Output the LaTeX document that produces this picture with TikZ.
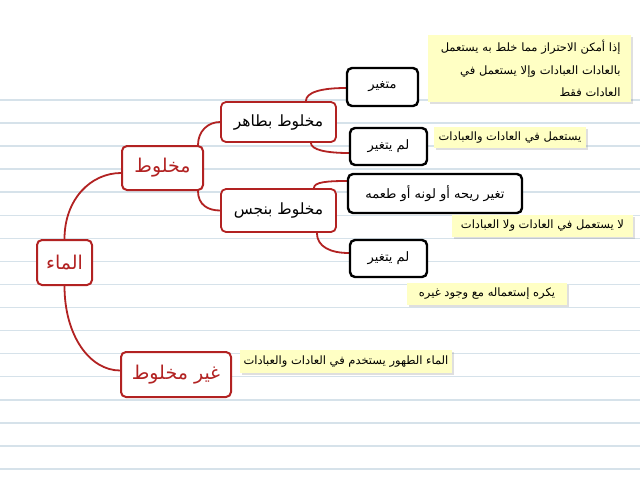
\documentclass[tikz,border=0pt]{standalone}
\usepackage{fontspec}
\TeXXeTstate=1
\newfontfamily\arabicfont[Script=Arabic]{DejaVu Sans}
\usetikzlibrary{calc,shadows}
\definecolor{mmred}{RGB}{178,34,34}
\definecolor{notey}{RGB}{255,255,196}
\definecolor{ruled}{RGB}{214,226,234}
\pgfdeclarelayer{bg}
\pgfsetlayers{bg,main}
\begin{document}
\begin{tikzpicture}[x=1pt,y=-1pt,
 redbox/.style={draw=mmred, line width=2pt, rounded corners=5pt, fill=white, text=mmred, font=\arabicfont\fontsize{19}{22}\selectfont, inner sep=0pt},
 subbox/.style={draw=mmred, line width=1.8pt, rounded corners=5pt, fill=white, text=black, font=\arabicfont\fontsize{15.5}{18}\selectfont, inner sep=0pt, minimum width=115pt},
 blackbox/.style={draw=black, line width=2.4pt, rounded corners=5pt, fill=white, font=\arabicfont\fontsize{13}{15}\selectfont, inner sep=0pt},
 notebox/.style={fill=notey, font=\arabicfont\fontsize{11.5}{22.5}\selectfont, inner sep=0pt, drop shadow={shadow xshift=1.5pt, shadow yshift=-1.5pt, opacity=0.25}},
 link/.style={draw=mmred, line width=1.8pt}
]
\useasboundingbox (0,0) rectangle (640,480);
\begin{pgfonlayer}{bg}
\fill[white] (0,0) rectangle (640,480);
\foreach \k in {0,...,16} \draw[ruled, line width=1.5pt] (0,{100+23.06*\k}) -- (640,{100+23.06*\k});
\end{pgfonlayer}

\node[redbox, minimum width=55pt, minimum height=45pt] (maa) at (64.5,262.5) {\beginR الماء\endR};
\node[redbox, minimum width=81pt, minimum height=44pt] (mx) at (162.5,168) {\beginR مخلوط\endR};
\node[redbox, minimum width=110pt, minimum height=45pt] (gm) at (176,374.5) {\beginR غير مخلوط\endR};
\node[subbox, minimum height=40pt] (mt) at (278.5,122) {\beginR مخلوط بطاهر\endR};
\node[subbox, minimum height=43pt] (mn) at (278.5,210.5) {\beginR مخلوط بنجس\endR};
\node[blackbox, minimum width=71pt, minimum height=38pt] (b1) at (382.5,87) {\beginR متغير\endR};
\node[blackbox, minimum width=77pt, minimum height=37pt] (b2) at (388.5,146.5) {\beginR لم يتغير\endR};
\node[blackbox, minimum width=174pt, minimum height=39pt] (b3) at (435,193.5) {\beginR تغير ريحه أو لونه أو طعمه\endR};
\node[blackbox, minimum width=77pt, minimum height=37pt] (b4) at (388.5,258.5) {\beginR لم يتغير\endR};

\node[notebox, minimum width=203pt, minimum height=67pt, text width=182pt, align=right] (n1) at (529.5,68.5) {\beginR إذا أمكن الاحتراز مما خلط به يستعمل\endR\\ \beginR بالعادات العبادات وإلا يستعمل في\endR\\ \beginR العادات فقط\endR};
\node[notebox, minimum width=152pt, minimum height=21pt] (n2) at (510,137.5) {\beginR يستعمل في العادات والعبادات\endR};
\node[notebox, minimum width=181pt, minimum height=22pt] (n3) at (542.5,226) {\beginR لا يستعمل في العادات ولا العبادات\endR};
\node[notebox, minimum width=160pt, minimum height=22pt] (n4) at (487,294) {\beginR يكره إستعماله مع وجود غيره\endR};
\node[notebox, minimum width=212pt, minimum height=23pt] (n5) at (346,361.5) {\beginR الماء الطهور يستخدم في العادات والعبادات\endR};

\begin{pgfonlayer}{bg}
\draw[link] (maa.north) .. controls +(0,-40) and +(-30,0) .. ($(mx.west)+(0,5)$);
\draw[link] (maa.south) .. controls +(0,50) and +(-30,0) .. ($(gm.west)+(0,-4)$);
\draw[link] ($(mx.north east)+(-6,0)$) .. controls +(0,-14) and +(-12,0) .. (mt.west);
\draw[link] ($(mx.south east)+(-6,0)$) .. controls +(0,14) and +(-12,0) .. (mn.west);
\draw[link] ($(mt.north east)+(-31,0)$) .. controls +(0,-9) and +(-24,0) .. ($(b1.west)+(0,1)$);
\draw[link] ($(mt.south east)+(-26,0)$) .. controls +(0,7) and +(-22,0) .. ($(b2.west)+(0,6.5)$);
\draw[link] ($(mn.north east)+(-23,0)$) .. controls +(0,-6) and +(-20,0) .. ($(b3.west)+(0,-12.5)$);
\draw[link] ($(mn.south east)+(-20,0)$) .. controls +(0,14) and +(-18,0) .. ($(b4.west)+(0,-5.5)$);
\end{pgfonlayer}
\end{tikzpicture}
\end{document}
